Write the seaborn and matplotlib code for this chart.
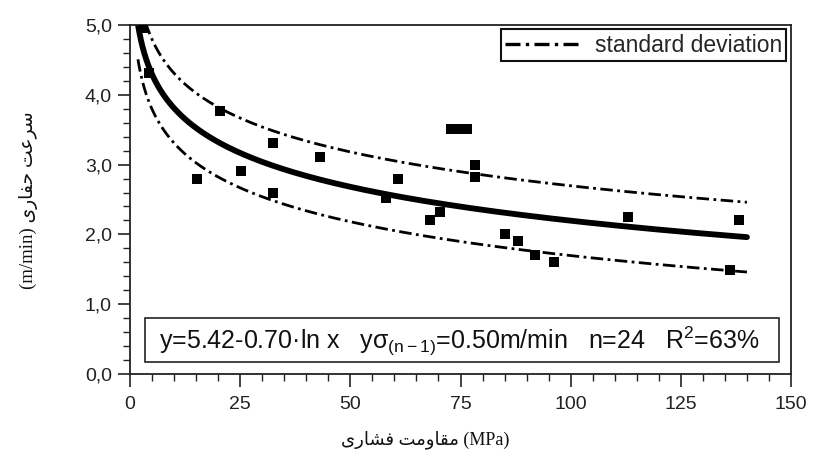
import numpy as np
import pandas as pd
import matplotlib
matplotlib.use("Agg")
import matplotlib.pyplot as plt
import seaborn as sns
from matplotlib.ticker import MultipleLocator, FuncFormatter
from matplotlib.lines import Line2D
from matplotlib.patches import Rectangle
from matplotlib import font_manager
from matplotlib.ft2font import FT2Font

# ---------------- data ----------------
strength = [3.0, 4.2, 15.3, 20.4, 25.1, 32.4, 32.4, 43.1, 58.2, 60.9, 68.1, 70.3,
            72.8, 74.7, 76.5, 78.3, 78.3, 85.1, 88.1, 91.9, 96.2, 113.1, 136.2, 138.2]
rate = [4.95, 4.31, 2.80, 3.77, 2.91, 3.31, 2.60, 3.11, 2.52, 2.80, 2.20, 2.32,
        3.51, 3.51, 3.51, 3.00, 2.82, 2.01, 1.90, 1.70, 1.60, 2.25, 1.49, 2.20]
fit_a, fit_b, fit_sd = 5.42, 0.70, 0.50
fit_range = [1.8, 140.0]
x_ticks = [0, 25, 50, 75, 100, 125, 150]
y_ticks = [0, 1, 2, 3, 4, 5]
eq_text = "y=5.42-0.70·ln x   yσ$\\mathregular{_{(n-1)}}$=0.50m/min   n=24   R$\\mathregular{^2}$=63%"
legend_label = "standard deviation"
y_words = ["سرعت", "حفاری"]
y_unit = "(m/min)"
x_words = ["مقاومت", "فشاری"]
x_unit = "(MPa)"

# ---------------- simple Persian shaping (matplotlib has no bidi/shaping) ----------------
FORMS = {
    'س': ('\uFEB1', '\uFEB2', '\uFEB3', '\uFEB4'),
    'ش': ('\uFEB5', '\uFEB6', '\uFEB7', '\uFEB8'),
    'ع': ('\uFEC9', '\uFECA', '\uFECB', '\uFECC'),
    'ت': ('\uFE95', '\uFE96', '\uFE97', '\uFE98'),
    'ح': ('\uFEA1', '\uFEA2', '\uFEA3', '\uFEA4'),
    'ف': ('\uFED1', '\uFED2', '\uFED3', '\uFED4'),
    'ق': ('\uFED5', '\uFED6', '\uFED7', '\uFED8'),
    'م': ('\uFEE1', '\uFEE2', '\uFEE3', '\uFEE4'),
    'ی': ('\uFBFC', '\uFBFD', '\uFBFE', '\uFBFF'),
    'ر': ('\uFEAD', '\uFEAE', None, None),
    'ا': ('\uFE8D', '\uFE8E', None, None),
    'و': ('\uFEED', '\uFEEE', None, None),
}
try:
    _f = FT2Font(font_manager.findfont("DejaVu Sans"))
    if _f.get_char_index(0xFBFD) == 0:
        FORMS['ی'] = ('\uFEEF', '\uFEF0', '\uFBE8', '\uFBE9')
except Exception:
    pass


def shape(word):
    out = []
    n = len(word)
    for i, ch in enumerate(word):
        f = FORMS[ch]
        prev_joins = i > 0 and FORMS[word[i - 1]][2] is not None
        join_next = f[2] is not None and i < n - 1
        if prev_joins and join_next:
            g = f[3]
        elif prev_joins:
            g = f[1]
        elif join_next:
            g = f[2]
        else:
            g = f[0]
        out.append(g)
    return ''.join(reversed(out))


ylabel_visual = y_unit + " " + shape(y_words[1]) + " " + shape(y_words[0])
xlabel_visual = shape(x_words[1]) + " " + shape(x_words[0]) + " " + x_unit

# ---------------- style ----------------
sns.set_theme(style="ticks")
plt.rcParams['font.family'] = ['Liberation Sans', 'DejaVu Sans']
plt.rcParams['mathtext.fontset'] = 'custom'
plt.rcParams['mathtext.rm'] = 'Liberation Sans'
plt.rcParams['mathtext.it'] = 'Liberation Sans:italic'

fig = plt.figure(figsize=(8.13, 4.63), dpi=100)
ax = fig.add_axes([130 / 813, 1 - 374 / 463, (791 - 130) / 813, (374 - 25) / 463])

pts = pd.DataFrame({"strength": strength, "rate": rate})
xs = np.geomspace(fit_range[0], fit_range[1], 300)
curves = pd.DataFrame({
    "x": np.concatenate([xs, xs, xs]),
    "y": np.concatenate([fit_a - fit_b * np.log(xs),
                         fit_a + fit_sd - fit_b * np.log(xs),
                         fit_a - fit_sd - fit_b * np.log(xs)]),
    "kind": ["fit"] * len(xs) + ["upper"] * len(xs) + ["lower"] * len(xs),
})

dd = (4.5, 1.6, 1, 1.6)
sns.lineplot(data=curves[curves.kind == "fit"], x="x", y="y", color="black",
             lw=4.2, ax=ax, solid_capstyle="round")
for k in ["upper", "lower"]:
    sns.lineplot(data=curves[curves.kind == k], x="x", y="y", color="black",
                 lw=2.0, ax=ax, dashes=False, linestyle=(0, dd))
sns.scatterplot(data=pts, x="strength", y="rate", marker="s", s=58,
                color="black", edgecolor="black", linewidth=0, ax=ax, zorder=5)

ax.set_xlim(0, 150)
ax.set_ylim(0, 5)
ax.xaxis.set_minor_locator(MultipleLocator(5))
ax.yaxis.set_minor_locator(MultipleLocator(0.2))
ax.set_xticks(x_ticks)
ax.set_yticks(y_ticks)
ax.yaxis.set_major_formatter(FuncFormatter(lambda v, p: f"{v:.1f}".replace('.', ',')))
ax.tick_params(axis='both', which='major', length=9, width=1.2, color='#222222',
               labelsize=14, labelcolor='#222222', direction='out', pad=4)
ax.tick_params(axis='both', which='minor', length=5, width=1.0, color='#222222',
               direction='out')
ax.tick_params(axis='x', which='major', pad=7)
for s in ax.spines.values():
    s.set_color('#222222')
    s.set_linewidth(1.3)
ax.set_xlabel("")
ax.set_ylabel("")

# equation box
ax.add_patch(Rectangle((3.4, 0.17), 143.9, 0.63, fill=False, edgecolor='#222222',
                       lw=1.2, zorder=6))
ax.text(6.6, 0.47, eq_text, fontsize=18, va='center', ha='left', color='#111111',
        zorder=7)

# legend
h = Line2D([], [], color='black', lw=2.4, linestyle=(0, dd))
leg = ax.legend([h], [legend_label], loc='upper right', bbox_to_anchor=(0.993, 0.988),
                frameon=True, fancybox=False, framealpha=1, edgecolor='#111111',
                fontsize=16.5, handlelength=3.2, handletextpad=0.7, borderpad=0.2,
                borderaxespad=0.0)
leg.get_frame().set_linewidth(1.5)

# axis labels (Persian)
fig.text(425 / 813, 1 - 440 / 463, xlabel_visual, ha='center', va='center',
         fontsize=13, family=['Liberation Serif', 'DejaVu Sans'], color='#111111')
fig.text(28 / 813, 1 - 200 / 463, ylabel_visual, ha='center', va='center', rotation=90,
         fontsize=13.5, family=['Liberation Serif', 'DejaVu Sans'], color='#111111')

fig.savefig("out.png", dpi=100)
